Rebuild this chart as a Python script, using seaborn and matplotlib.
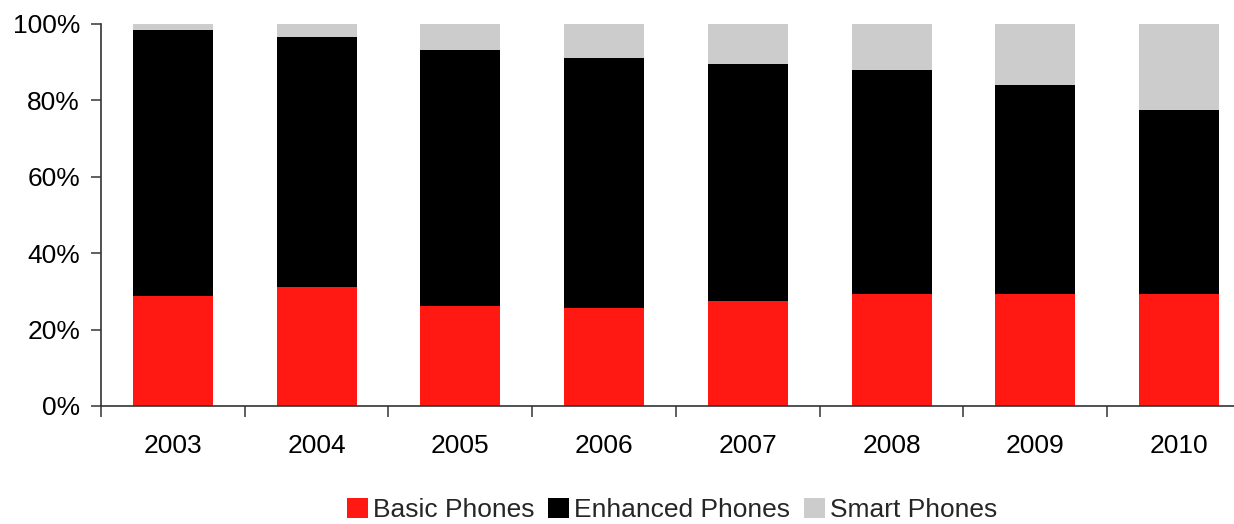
import matplotlib
matplotlib.use("Agg")
import matplotlib.pyplot as plt
from matplotlib.patches import Patch
from matplotlib.ticker import FixedLocator, PercentFormatter
import numpy as np
import pandas as pd
import seaborn as sns

# Handset mix by year (share of units, %)
years = ["2003", "2004", "2005", "2006", "2007", "2008", "2009", "2010"]
basic = [28.8, 31.2, 26.2, 25.6, 27.5, 29.3, 29.3, 29.3]
enhanced = [69.7, 65.3, 67.0, 65.5, 62.1, 58.7, 54.8, 48.3]
smart = [1.5, 3.5, 6.8, 8.9, 10.4, 12.0, 15.9, 22.4]

series_names = ["Basic Phones", "Enhanced Phones", "Smart Phones"]
series_colors = ["#FF1912", "#000000", "#CCCCCC"]

sns.set_theme(style="white")
plt.rcParams["font.family"] = ["Liberation Sans", "DejaVu Sans"]

df = pd.DataFrame({"year": years, "basic": basic, "enhanced": enhanced, "smart": smart})
df["cum_basic"] = df["basic"]
df["cum_enh"] = df["basic"] + df["enhanced"]
df["cum_all"] = df["cum_enh"] + df["smart"]

fig = plt.figure(figsize=(12.34, 5.24), dpi=100)
ax = fig.add_axes([0.0818, 0.2252, 0.9319, 0.729])

# Stacked bars drawn as overlapping cumulative totals, tallest first
bar_w = 0.557
for col, color in [("cum_all", series_colors[2]), ("cum_enh", series_colors[1]), ("cum_basic", series_colors[0])]:
    sns.barplot(data=df, x="year", y=col, color=color, width=bar_w,
                linewidth=0, saturation=1, ax=ax, order=years)

ax.set_xlim(-0.5, len(years) - 0.5)
ax.set_ylim(0, 100)
ax.set_xlabel("")
ax.set_ylabel("")

ax.yaxis.set_major_locator(FixedLocator([0, 20, 40, 60, 80, 100]))
ax.yaxis.set_major_formatter(PercentFormatter(decimals=0))

# Category labels centered, tick marks between categories
ax.set_xticks(range(len(years)))
ax.set_xticklabels(years)
ax.set_xticks(np.arange(len(years) + 1) - 0.5, minor=True)
ax.tick_params(axis="x", which="major", length=0, pad=20, labelsize=19, colors="#000000")
ax.tick_params(axis="x", which="minor", length=8, width=1.2, direction="out", color="#444444", bottom=True)
ax.tick_params(axis="y", which="major", length=7, width=1.2, direction="out", pad=8,
               labelsize=19, color="#444444", left=True, labelcolor="#000000")

for side in ["top", "right"]:
    ax.spines[side].set_visible(False)
for side in ["left", "bottom"]:
    ax.spines[side].set_color("#333333")
    ax.spines[side].set_linewidth(1.2)

handles = [Patch(facecolor=c, edgecolor="none", label=n) for n, c in zip(series_names, series_colors)]
fig.legend(handles=handles, loc="center", bbox_to_anchor=(672 / 1234, 1 - 510 / 524),
           ncol=3, frameon=False, fontsize=19, handlelength=0.8, handleheight=0.8,
           handletextpad=0.2, columnspacing=0.5, borderpad=0)

fig.savefig("out.png", dpi=100)
